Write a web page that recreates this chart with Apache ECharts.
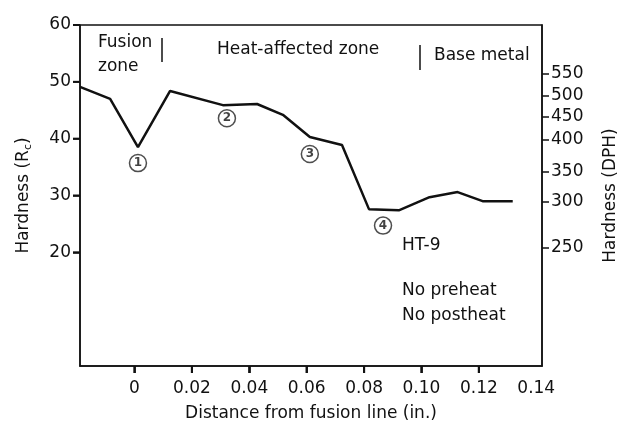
<!DOCTYPE html>
<html>
<head>
<meta charset="utf-8">
<script src="https://cdn.jsdelivr.net/npm/echarts@6/dist/echarts.min.js"></script>
<style>
  html, body { margin: 0; padding: 0; background: #fff; }
</style>
</head>
<body>
<div id="chart" style="width: 620px;height:432px;"></div>
<script>
    // hardness profile across the weld (distance in inches, hardness in Rc)
    const distance = [-0.019, -0.0085, 0.0012, 0.0124, 0.0308, 0.0427, 0.0517, 0.0611, 0.0723, 0.0817, 0.0921, 0.1028, 0.1126, 0.1213, 0.1318];
    const hardnessRc = [49.1, 47.0, 38.5, 48.4, 45.9, 46.1, 44.2, 40.3, 38.9, 27.6, 27.4, 29.7, 30.6, 29.0, 29.0];

    // numbered locations
    const markNames = ['1', '2', '3', '4'];
    const markX = [0.0012, 0.0322, 0.0611, 0.0866];
    const markY = [35.7, 43.6, 37.3, 24.7];

    // axis ticks
    const xMin = -0.019;
    const xMax = 0.142;
    const xTicks = [0, 0.02, 0.04, 0.06, 0.08, 0.10, 0.12];
    const xLabels = [0, 0.02, 0.04, 0.06, 0.08, 0.10, 0.12, 0.14];
    const rcTicks = [20, 30, 40, 50, 60];
    const dphLabels = [550, 500, 450, 400, 350, 300, 250];
    const dphAtRc = [51.5, 47.6, 43.8, 39.8, 34.2, 28.9, 20.8];

    const textColor = '#111';
    const font = 'DejaVu Sans, sans-serif';
    const fs = 17;
    const tickLen = 7;

    const myChart = echarts.init(document.getElementById('chart'));

    // tick marks drawn through the axes scales (native x ticks don't render here)
    const tickData = xTicks.map(v => [v, 0, 0]).concat(rcTicks.map(v => [xMin, v, 1]));

    function renderTick(params, api) {
        const p = api.coord([api.value(0), api.value(1)]);
        const horiz = api.value(2) === 1;
        return {
            type: 'line',
            shape: horiz
                ? { x1: p[0] - tickLen, y1: p[1], x2: p[0], y2: p[1] }
                : { x1: p[0], y1: p[1], x2: p[0], y2: p[1] + tickLen },
            style: { stroke: '#111', lineWidth: 2 }
        };
    }

    const option = {
        animation: false,
        grid: {
            left: 80,
            right: 78,
            top: 25,
            bottom: 66,
            outerBoundsMode: 'none',
            containLabel: false,
            show: true,
            borderColor: '#111',
            borderWidth: 1.5
        },
        xAxis: {
            type: 'value',
            min: xMin,
            max: xMax,
            name: 'Distance from fusion line (in.)',
            nameLocation: 'middle',
            nameGap: 39,
            nameTextStyle: { fontSize: fs, color: textColor, fontFamily: font },
            axisLine: { lineStyle: { color: '#111', width: 1.5 } },
            splitLine: { show: false },
            axisTick: {
                customValues: xTicks,
                length: tickLen,
                lineStyle: { color: '#111', width: 1.5 }
            },
            axisLabel: {
                customValues: xLabels,
                margin: 14,
                fontSize: fs,
                color: textColor,
                fontFamily: font,
                formatter: function (v) {
                    return v === 0 ? '0' : v.toFixed(2);
                }
            }
        },
        yAxis: [
            {
                type: 'value',
                min: 0,
                max: 60,
                name: 'Hardness (R{sub|c})',
                nameLocation: 'middle',
                nameGap: 46,
                nameTextStyle: {
                    fontSize: fs, color: textColor, fontFamily: font,
                    rich: { sub: { fontSize: 11, fontFamily: font, verticalAlign: 'bottom', padding: [9, 0, 0, 0], color: textColor } }
                },
                axisLine: { show: true, onZero: false, lineStyle: { color: '#111', width: 1.5 } },
                splitLine: { show: false },
                axisTick: {
                    customValues: rcTicks,
                    length: tickLen,
                    lineStyle: { color: '#111', width: 1.5 }
                },
                axisLabel: {
                    customValues: rcTicks,
                    margin: 9,
                    fontSize: fs,
                    color: textColor,
                    fontFamily: font
                }
            },
            {
                type: 'value',
                min: 0,
                max: 60,
                position: 'right',
                name: 'Hardness (DPH)',
                nameLocation: 'middle',
                nameGap: 60,
                nameRotate: 90,
                nameTextStyle: { fontSize: fs, color: textColor, fontFamily: font },
                axisLine: { show: true, onZero: false, lineStyle: { color: '#111', width: 1.5 } },
                splitLine: { show: false },
                axisTick: {
                    customValues: dphAtRc,
                    length: tickLen,
                    lineStyle: { color: '#111', width: 1.5 }
                },
                axisLabel: {
                    customValues: dphAtRc,
                    margin: 9,
                    fontSize: fs,
                    color: textColor,
                    fontFamily: font,
                    formatter: function (v) {
                        const i = dphAtRc.indexOf(v);
                        return i >= 0 ? String(dphLabels[i]) : '';
                    }
                }
            }
        ],
        series: [
            {
                type: 'line',
                data: distance.map((d, i) => [d, hardnessRc[i]]),
                symbol: 'none',
                lineStyle: { color: '#111', width: 2.5 },
                z: 2
            },
            {
                type: 'scatter',
                data: markX.map((d, i) => [d, markY[i], markNames[i]]),
                symbol: 'circle',
                symbolSize: 17,
                itemStyle: { color: '#fff', borderColor: '#222', borderWidth: 1.5 },
                label: {
                    show: true,
                    position: 'inside',
                    formatter: p => p.data[2],
                    fontSize: 12,
                    fontWeight: 'bold',
                    color: '#111',
                    fontFamily: font
                },
                z: 3
            },
            {
                type: 'custom',
                data: tickData,
                encode: { x: 0, y: 1 },
                renderItem: renderTick,
                clip: false,
                silent: true,
                z: 4
            },
            {
                // x ticks again as small bars below the axis line
                type: 'scatter',
                data: xTicks.map(v => [v, 0]),
                symbol: 'rect',
                symbolSize: [2, tickLen],
                symbolOffset: [0, tickLen / 2],
                itemStyle: { color: '#111' },
                clip: false,
                silent: true,
                z: 5
            }
        ],
        graphic: [
            // zone labels along the top
            { type: 'text', left: 98, top: 34, style: { text: 'Fusion', fontSize: fs, fill: textColor, fontFamily: font } },
            { type: 'text', left: 98, top: 58, style: { text: 'zone', fontSize: fs, fill: textColor, fontFamily: font } },
            { type: 'line', shape: { x1: 162, y1: 38, x2: 162, y2: 62 }, style: { stroke: '#111', lineWidth: 1.5 } },
            { type: 'text', left: 217, top: 41, style: { text: 'Heat-affected zone', fontSize: fs, fill: textColor, fontFamily: font } },
            { type: 'line', shape: { x1: 420, y1: 45, x2: 420, y2: 70 }, style: { stroke: '#111', lineWidth: 1.5 } },
            { type: 'text', left: 434, top: 47, style: { text: 'Base metal', fontSize: fs, fill: textColor, fontFamily: font } },
            // material notes
            { type: 'text', left: 402, top: 237, style: { text: 'HT-9', fontSize: fs, fill: textColor, fontFamily: font } },
            { type: 'text', left: 402, top: 282, style: { text: 'No preheat', fontSize: fs, fill: textColor, fontFamily: font } },
            { type: 'text', left: 402, top: 307, style: { text: 'No postheat', fontSize: fs, fill: textColor, fontFamily: font } }
        ]
    };

    myChart.setOption(option);
</script>
</body>
</html>
